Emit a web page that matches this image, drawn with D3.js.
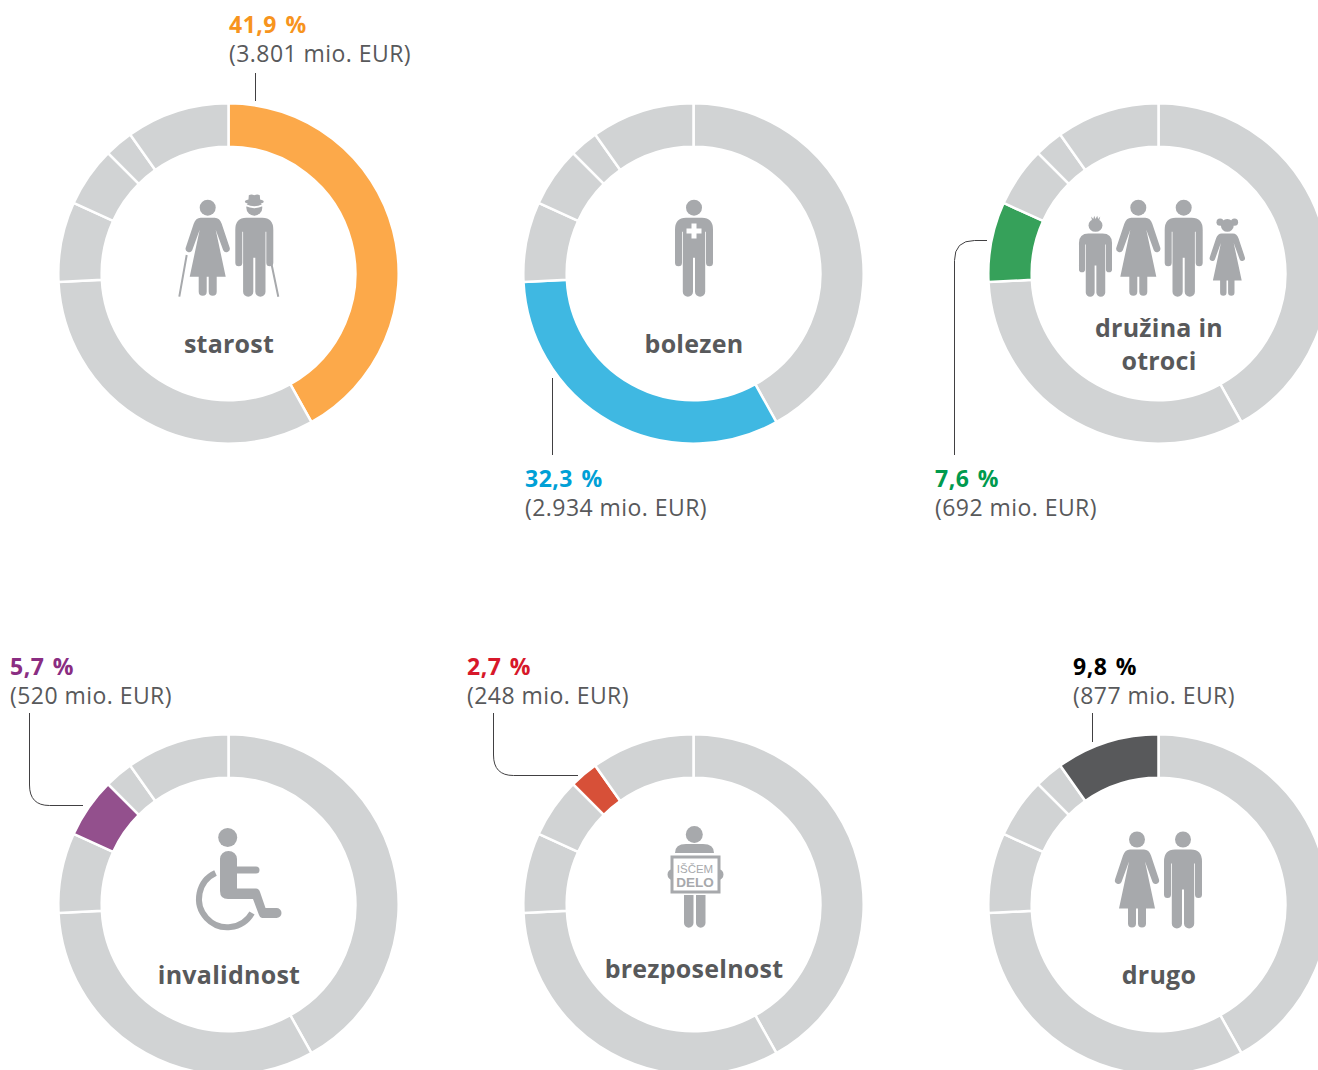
<!DOCTYPE html>
<html><head><meta charset="utf-8">
<script src="https://cdn.jsdelivr.net/npm/d3@7"></script>
<style>
html,body{margin:0;padding:0;background:#fff;overflow:hidden}
svg{display:block}
text{font-family:"Open Sans","Noto Sans",sans-serif}
</style></head><body><div id="c"></div>
<script>
const categories = ["starost","bolezen","družina in otroci","invalidnost","brezposelnost","drugo"];
const shares = [41.9,32.3,7.6,5.7,2.7,9.8];
const amounts = ["3.801","2.934","692","520","248","877"];
const segColors = ["#fca94a","#3fb8e2","#36a15a","#93508d","#d75038","#58595b"];
const pctColors = ["#f7941d","#00a0d6","#009a4e","#8a2d82","#d7182a","#000000"];
const labelLines = [["starost"],["bolezen"],["družina in","otroci"],["invalidnost"],["brezposelnost"],["drugo"]];

const W=1318,H=1070,GREY="#d1d3d4",ICON="#a7a9ac",TXT="#58595b";
const svg=d3.select("#c").append("svg").attr("width",W).attr("height",H);
const centers=[[228.5,273.5],[693.5,273.5],[1158.5,273.5],[228.5,904.5],[693.5,904.5],[1158.5,904.5]];
const labelY=[[353],[353],[337,370],[984],[978],[984]];
const textPos=[[229,33],[525,487],[935,487],[10,675],[467,675],[1073,675]];
const leaders=[
 "M255.5,73V101",
 "M552.5,378V455",
 "M987,240.5H974.5Q954.5,240.5 954.5,260.5V455",
 "M29.5,713V785Q29.5,805.5 49.5,805.5H83",
 "M493.5,713V755Q493.5,775.5 513.5,775.5H578",
 "M1092.5,713V742"];
const pie=d3.pie().sort(null).value(d=>d)(shares);
const arc=d3.arc().innerRadius(126.8).outerRadius(170.2);

categories.forEach((cat,i)=>{
  const g=svg.append("g").attr("transform",`translate(${centers[i]})`);
  g.selectAll("path").data(pie).join("path")
    .attr("d",arc)
    .attr("fill",(d,j)=>j===i?segColors[i]:GREY)
    .attr("stroke","#fff").attr("stroke-width",2.5);
  svg.append("path").attr("d",leaders[i]).attr("fill","none").attr("stroke","#414042").attr("stroke-width",1);
  const [tx,ty]=textPos[i];
  svg.append("text").attr("x",tx).attr("y",ty).attr("fill",pctColors[i])
    .attr("font-size",23).attr("font-weight",700).attr("letter-spacing",0.5).attr("word-spacing",2)
    .text(String(shares[i]).replace(".",",")+" %");
  svg.append("text").attr("x",tx).attr("y",ty+29).attr("fill",TXT)
    .attr("font-size",23).attr("letter-spacing",0.45)
    .text(`(${amounts[i]} mio. EUR)`);
  labelLines[i].forEach((l,k)=>{
    svg.append("text").attr("x",centers[i][0]+0.5).attr("y",labelY[i][k]).attr("text-anchor","middle")
      .attr("fill",TXT).attr("font-size",25).attr("font-weight",700).attr("letter-spacing",0.25).text(l);
  });
});

// pictograms
const icons=svg.append("g").attr("fill",ICON);
const manPath="M-19,30Q-19,18 -8,18L8,18Q19,18 19,30L19,63a3.5,3.5 0 0 1 -7,0L12,32L11.2,32L11.2,92a5.1,5.1 0 0 1 -10.2,0L1,58L-1,58L-1,92a5.1,5.1 0 0 1 -10.2,0L-11.2,32L-12,32L-12,63a3.5,3.5 0 0 1 -7,0Z";
const womanPath="M-7,18L7,18Q12,18 14,24L22,48a3.5,3.5 0 0 1 -6.5,2.5L8,30L18,77L9,77L9,92a4,4 0 0 1 -8,0L1,77L-1,77L-1,92a4,4 0 0 1 -8,0L-9,77L-18,77L-8,30L-15.5,50.5a3.5,3.5 0 0 1 -6.5,-2.5L-14,24Q-12,18 -7,18Z";
function figure(path,cx,top,sx,sy){
  const f=icons.append("g").attr("transform",`translate(${cx},${top}) scale(${sx},${sy})`);
  f.append("circle").attr("cy",8).attr("r",8);
  f.append("path").attr("d",path);
  return f;
}
const man=(x,t,sx=1,sy=1)=>figure(manPath,x,t,sx,sy);
const woman=(x,t,sx=1,sy=1)=>figure(womanPath,x,t,sx,sy);

// starost
woman(207.7,199.7);
const old=man(254.3,199.7);
old.append("path").attr("d","M-8.5,5.5Q0,9.5 8.5,5.5").attr("fill","none").attr("stroke","#fff").attr("stroke-width",2);
old.append("ellipse").attr("cy",2).attr("rx",9.5).attr("ry",2.6);
old.append("path").attr("d","M-6,2L-5.5,-4.5Q-3,-6 0,-4.5Q3,-6 5.5,-4.5L6,2Z");

// sticks
icons.append("path").attr("d","M186.7,255L179.3,296.7M270,256.7L278.3,296.7").attr("stroke",ICON).attr("stroke-width",2).attr("fill","none");

// bolezen
man(694,199.7);
icons.append("path").attr("d","M691.5,223.5h5v5h5v5h-5v5h-5v-5h-5v-5h5Z").attr("fill","#fff");

// družina in otroci
const boy=man(1095.5,219,0.87,0.8);
boy.append("path").attr("d","M-4,2L-5,-3L-2.5,0L-1.5,-4L0,0L2,-4L3,0L5.5,-3L4,3Z");
woman(1138.3,199.7);
man(1183.7,199.7);
const girl=woman(1227.3,219,0.8,0.8);
girl.append("circle").attr("cx",-9).attr("cy",4).attr("r",4.5);
girl.append("circle").attr("cx",9).attr("cy",4).attr("r",4.5);

// invalidnost
icons.append("path").attr("d","M215.5,873A28.4,28.4 0 1 0 252,913").attr("fill","none").attr("stroke",ICON).attr("stroke-width",6);
icons.append("circle").attr("cx",227.7).attr("cy",837.5).attr("r",9.5);
icons.append("path").attr("d","M220,859a8.5,8 0 0 1 17,0V866.5H256a3.4,3.4 0 0 1 0,7H237V888.5H256Q259,888.5 260,892L265.5,908H276.5a5,5 0 0 1 0,10H262Q260,918 259,915L253,899H228Q220,899 220,891Z");

// brezposelnost
icons.append("circle").attr("cx",694.3).attr("cy",834.5).attr("r",8.5);
icons.append("path").attr("d","M675,853Q675,844 686,844H703Q714,844 714,853Z");
icons.append("path").attr("d","M684,895H693.5V923a4.7,4.7 0 0 1 -9.5,0ZM696,895H705.5V923a4.7,4.7 0 0 1 -9.5,0Z");
icons.append("path").attr("d","M673,869a5.5,5.5 0 0 0 0,11ZM718,869a5.5,5.5 0 0 1 0,11Z");
icons.append("rect").attr("x",672).attr("y",857).attr("width",47).attr("height",35)
  .attr("fill","#fff").attr("stroke",ICON).attr("stroke-width",3);
icons.append("text").attr("x",695).attr("y",872.5).attr("text-anchor","middle")
  .attr("font-size",11.5).style("font-family","'Liberation Sans'").text("IŠČEM");
icons.append("text").attr("x",695).attr("y",886.5).attr("text-anchor","middle")
  .attr("font-size",13.5).attr("font-weight",700).style("font-family","'Liberation Sans'").text("DELO");

// drugo
woman(1137,831.5);
man(1183,831.5);
</script></body></html>
